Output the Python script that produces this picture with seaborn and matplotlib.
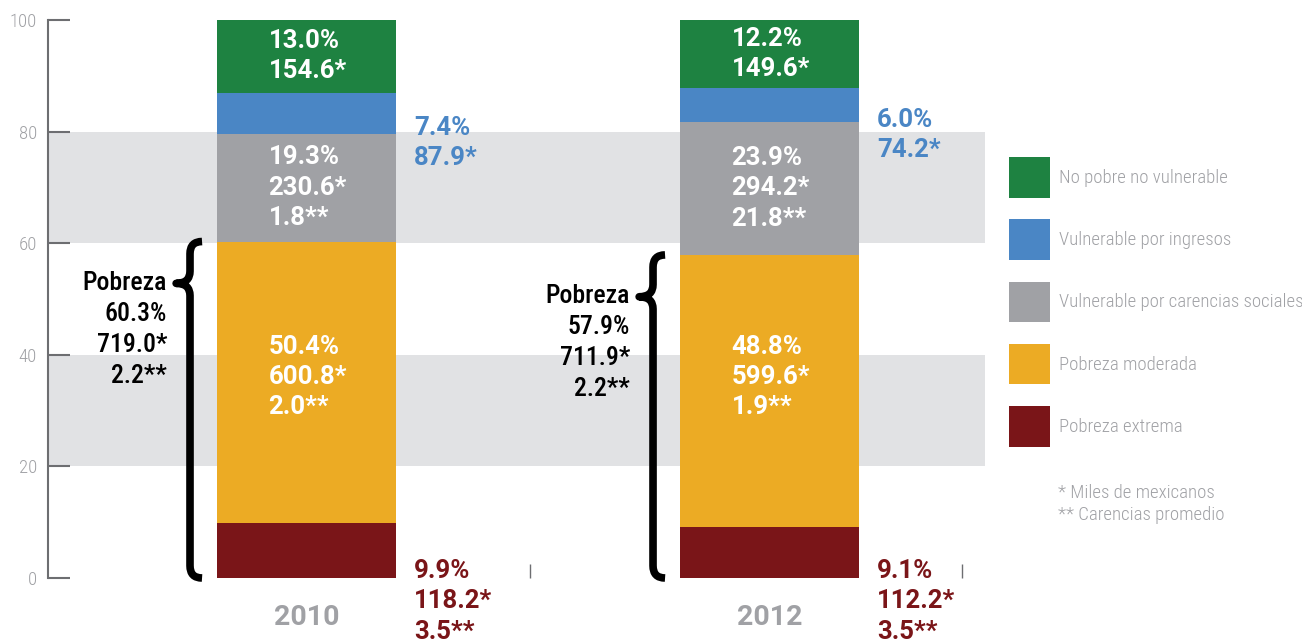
import matplotlib
matplotlib.use('Agg')
import matplotlib.pyplot as plt
from matplotlib import font_manager
from matplotlib.patches import Patch, PathPatch
from matplotlib.path import Path
import seaborn as sns
import pandas as pd

years = ['2010', '2012']
categories = ['Pobreza extrema', 'Pobreza moderada', 'Vulnerable por carencias sociales',
              'Vulnerable por ingresos', 'No pobre no vulnerable']
pct_extrema = [9.9, 9.1]
pct_moderada = [50.4, 48.8]
pct_carencias = [19.3, 23.9]
pct_ingresos = [7.4, 6.0]
pct_nopobre = [13.0, 12.2]

miles_extrema = ['118.2', '112.2']
miles_moderada = ['600.8', '599.6']
miles_carencias = ['230.6', '294.2']
miles_ingresos = ['87.9', '74.2']
miles_nopobre = ['154.6', '149.6']

car_extrema = ['3.5', '3.5']
car_moderada = ['2.0', '1.9']
car_carencias = ['1.8', '21.8']

pobreza_pct = [60.3, 57.9]
pobreza_miles = ['719.0', '711.9']
pobreza_car = ['2.2', '2.2']

colors = ['#7a1518', '#ecab24', '#a0a1a5', '#4a86c5', '#1e8241']
grey_txt = '#a0a1a5'

avail = {f.name for f in font_manager.fontManager.ttflist}
narrow = 'Roboto Condensed' if 'Roboto Condensed' in avail else 'Roboto'

sns.set_style('white')
plt.rcParams['font.family'] = [narrow, 'DejaVu Sans']

df = pd.DataFrame({
    'year': years,
    'extrema': pct_extrema, 'moderada': pct_moderada, 'carencias': pct_carencias,
    'ingresos': pct_ingresos, 'nopobre': pct_nopobre,
})
segs = ['extrema', 'moderada', 'carencias', 'ingresos', 'nopobre']
cum = df[segs].cumsum(axis=1)

fig = plt.figure(figsize=(13.02, 6.44), dpi=100)
ax = fig.add_axes([48 / 1302, 66 / 644, 937 / 1302, 558 / 644])

# grey bands
for lo, hi in [(20, 40), (60, 80)]:
    ax.axhspan(lo, hi, color='#e1e2e4', zorder=0, lw=0)

bw = 0.3866
# stacked bars: draw cumulative totals from top to bottom
for seg, col in reversed(list(zip(segs, colors))):
    sns.barplot(x=df['year'], y=cum[seg], color=col, width=bw, ax=ax,
                saturation=1, zorder=2, linewidth=0)

ax.set_xlim(-0.5583, 1.4654)
ax.set_ylim(0, 100)

bold = dict(fontsize=18.5, fontweight='bold', family=['Roboto', 'DejaVu Sans'],
            linespacing=1.33, zorder=4)

# the yellow labels sit at the same height in both bars
mod_mid = (cum['extrema'] + cum['moderada']).mean() / 2 + 1.7

for i in range(2):
    x_in = i - 0.082
    bottoms = [0] + list(cum.iloc[i].values[:-1])
    tops = list(cum.iloc[i].values)
    lines = {
        'nopobre': f'{pct_nopobre[i]:.1f}%\n{miles_nopobre[i]}*',
        'carencias': f'{pct_carencias[i]:.1f}%\n{miles_carencias[i]}*\n{car_carencias[i]}**',
        'moderada': f'{pct_moderada[i]:.1f}%\n{miles_moderada[i]}*\n{car_moderada[i]}**',
    }
    for k, seg in enumerate(segs):
        if seg in lines:
            yc = (bottoms[k] + tops[k]) / 2
            if seg == 'moderada':
                yc = mod_mid
            ax.text(x_in, yc, lines[seg], color='white', ha='left', va='center', **bold)
    # blue label outside
    yb = (bottoms[3] + tops[3]) / 2 - 5.4
    ax.text(i + 0.232, yb, f'{pct_ingresos[i]:.1f}%\n{miles_ingresos[i]}*',
            color=colors[3], ha='left', va='center', **bold)
    # dark red label below
    ax.text(i + 0.232, 3.4, f'{pct_extrema[i]:.1f}%\n{miles_extrema[i]}*\n{car_extrema[i]}**',
            color=colors[0], ha='left', va='top', clip_on=False, **bold)

    # brace over pobreza
    top = pobreza_pct[i]
    pt = top - 7.5
    xl = i - 0.2516
    xr = xl + 0.026
    xp = xl - 0.030
    d = 2.2
    verts = [(xr, top), (xl, top), (xl, top - d),
             (xl, pt + d),
             (xl, pt), (xp, pt),
             (xl, pt), (xl, pt - d),
             (xl, 0 + d),
             (xl, 0), (xr, 0)]
    codes = [Path.MOVETO, Path.CURVE3, Path.CURVE3,
             Path.LINETO,
             Path.CURVE3, Path.CURVE3,
             Path.CURVE3, Path.CURVE3,
             Path.LINETO,
             Path.CURVE3, Path.CURVE3]
    ax.add_patch(PathPatch(Path(verts, codes), fill=False, lw=5.5, color='black',
                           capstyle='butt', joinstyle='round', zorder=3, clip_on=False))
    ax.text(i - 0.301, pt + 2.2,
            f'Pobreza\n{pobreza_pct[i]:.1f}%\n{pobreza_miles[i]}*\n{pobreza_car[i]}**',
            color='black', fontsize=18.5, fontweight='medium',
            ha='right', va='top', linespacing=1.36, zorder=4)

# axes styling
for s in ['top', 'right', 'bottom']:
    ax.spines[s].set_visible(False)
ax.spines['left'].set_color('#6d6e71')
ax.spines['left'].set_linewidth(1.5)
ax.set_yticks([0, 20, 40, 60, 80, 100])
ax.tick_params(axis='y', left=True, direction='in', length=16, width=1.5, color='#6d6e71',
               labelcolor=grey_txt, labelsize=13.5, pad=8)
for lab in ax.get_yticklabels():
    lab.set_fontweight('light')
ax.tick_params(axis='x', length=0, pad=19, labelsize=20.5, labelcolor=grey_txt)
for lab in ax.get_xticklabels():
    lab.set_fontweight('bold')
    lab.set_family(['Roboto', 'DejaVu Sans'])
ax.set_xlabel('')
ax.set_ylabel('')
ax.grid(False)

# small marks on the baseline
ax.set_xticks([0.483, 1.416], minor=True)
ax.tick_params(axis='x', which='minor', bottom=True, direction='in', length=10, width=1,
               color='#6d6e71')

# legend
handles = [Patch(facecolor=c, edgecolor='none', label=l)
           for c, l in zip(reversed(colors), reversed(categories))]
fig.legend(handles=handles, loc='upper left', bbox_to_anchor=(1009 / 1302, 1 - 157 / 644),
           frameon=False, prop={'family': narrow, 'size': 13.5, 'weight': 'light'},
           handlelength=2.2, handleheight=2.95,
           labelspacing=1.16, handletextpad=0.45, borderpad=0, borderaxespad=0,
           labelcolor=grey_txt)
fig.text(1058 / 1302, 1 - 493 / 644, '* Miles de mexicanos', color=grey_txt,
         fontsize=13.5, fontweight='light', va='center')
fig.text(1058 / 1302, 1 - 515 / 644, '** Carencias promedio', color=grey_txt,
         fontsize=13.5, fontweight='light', va='center')

fig.savefig('out.png', dpi=100)
